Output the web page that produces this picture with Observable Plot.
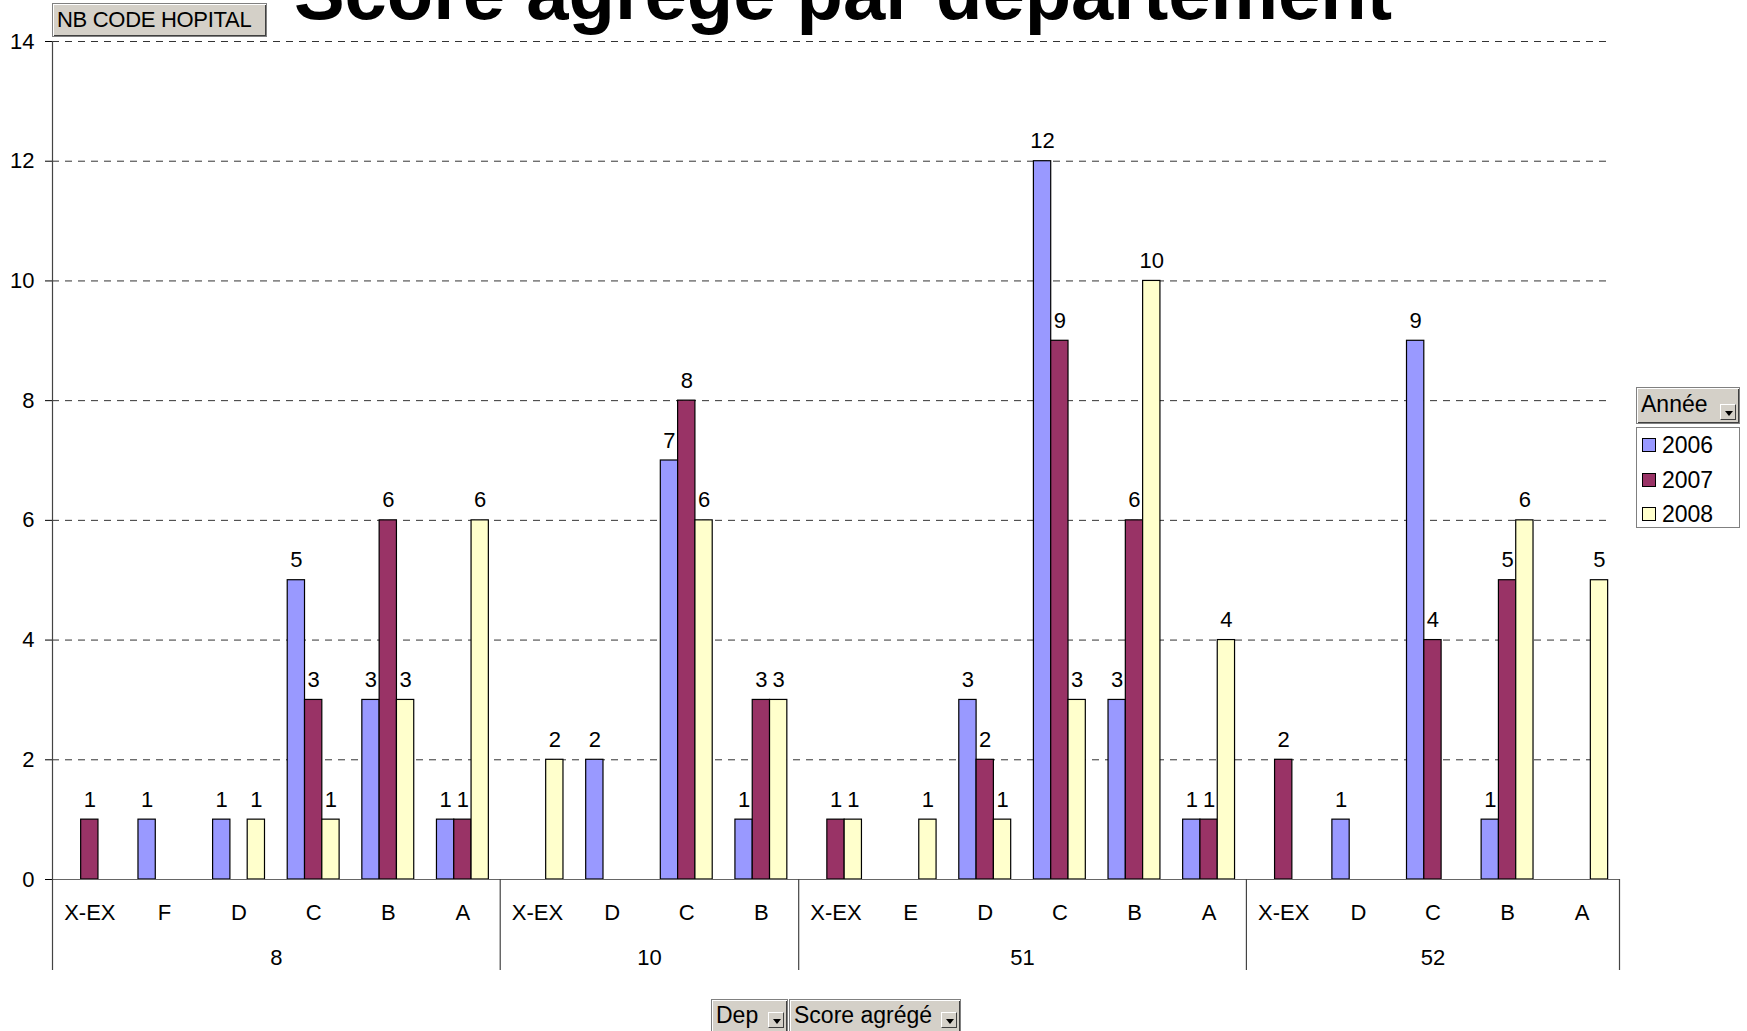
<!DOCTYPE html>
<html>
<head>
<meta charset="utf-8">
<script src="https://cdn.jsdelivr.net/npm/d3@7"></script>
<script src="https://cdn.jsdelivr.net/npm/@observablehq/plot@0.6"></script>
<style>
  body { margin: 0; background: #fff; font-family: "Liberation Sans", Arial, sans-serif; }
  #wrap { position: relative; width: 1747px; height: 1031px; overflow: hidden; background: #fff; }
  #chart { position: absolute; left: 0; top: 0; }
  .title { position: absolute; left: 0; width: 1686px; top: -45px; text-align: center; font-weight: bold;
           font-size: 76px; line-height: 76px; white-space: nowrap; color: #000; }
  .btn { position: absolute; background: #D4D0C8; box-sizing: border-box; border: 1px solid #808080;
         box-shadow: inset 1px 1px 0 #fff, inset -1px -1px 0 #404040; font-size: 22px; color: #000;
         white-space: nowrap; padding-left: 4px; }
  .arrow { position: absolute; width: 16px; height: 16px; box-sizing: border-box; background: #D4D0C8;
           border-top: 1px solid #fff; border-left: 1px solid #fff; border-right: 1px solid #404040; border-bottom: 1px solid #404040; }
  .arrow::after { content: ""; position: absolute; left: 4px; top: 6px; border-left: 4px solid transparent;
                  border-right: 4px solid transparent; border-top: 5px solid #000; }
  .legbox { position: absolute; background: #fff; border: 1px solid #808080; box-sizing: border-box; }
  .legitem { position: absolute; left: 6px; font-size: 22px; line-height: 22px; }
  .legitem span.sw { display: inline-block; width: 12px; height: 12px; border: 1px solid #000; margin-right: 6px; vertical-align: 1px; }
</style>
</head>
<body>
<div id="wrap">
  <div id="chart"></div>
</div>
<script>
// ---------- data ----------
const categoryDeps   = ["8","8","8","8","8","8","10","10","10","10","51","51","51","51","51","51","52","52","52","52","52"];
const categoryScores = ["X-EX","F","D","C","B","A","X-EX","D","C","B","X-EX","E","D","C","B","A","X-EX","D","C","B","A"];
const years = ["2006","2007","2008"];
const values2006 = [null,1,1,5,3,1,   null,2,7,1,   null,null,3,12,3,1,  null,1,9,1,null];
const values2007 = [1,null,null,3,6,1, null,null,8,3, 1,null,2,9,6,1,    2,null,4,5,null];
const values2008 = [null,null,1,1,3,6, 2,null,6,3,   1,1,1,3,10,4,       null,null,null,6,5];
const yearColors = ["#9999FF","#993366","#FFFFCC"];
const yTicks = [0,2,4,6,8,10,12,14];
const departments = ["8","10","51","52"];
const titleText = "Score agrégé par département";
const legendTitle = "Année";
const pageFieldLabel = "NB CODE HOPITAL";
const rowFieldLabels = ["Dep","Score agrégé"];

// ---------- derived table ----------
const keys = categoryScores.map((s, i) => categoryDeps[i] + "|" + s);
const series = [values2006, values2007, values2008];
const rows = years.flatMap((yr, j) => keys.map((k, i) => ({key: k, year: yr, value: series[j][i]})))
                  .filter(d => d.value != null);
const groups = departments.map(dep => {
  const ks = keys.filter((k, i) => categoryDeps[i] === dep);
  return {dep, keys: ks};
});
const evenGroups = groups.filter(g => g.keys.length % 2 === 0).map(g => ({dep: g.dep, key: g.keys[g.keys.length / 2 - 1]}));
const oddGroups  = groups.filter(g => g.keys.length % 2 === 1).map(g => ({dep: g.dep, key: g.keys[(g.keys.length - 1) / 2]}));
const groupStarts = groups.map(g => g.keys[0]);
const lastKey = keys[keys.length - 1];

// ---------- layout ----------
const W = 1747, H = 1031, mL = 52, mR = 128, mT = 41, mB = 152;
const band = (W - mL - mR) / keys.length;
const barW = 17.3;
const inset = (band - barW) / 2;
const FS = 22;

const marks = [];
marks.push(Plot.ruleY(yTicks.filter(t => t > 0), {stroke: "#333", strokeWidth: 1, strokeDasharray: "7,6", insetRight: 7}));
years.forEach((yr, j) => {
  const d = rows.filter(r => r.year === yr);
  const dx = (j - 1) * barW;
  marks.push(Plot.barY(d, {x: "key", y: "value", fill: yearColors[j], stroke: "#000", strokeWidth: 1.2,
                           insetLeft: inset, insetRight: inset, dx}));
  marks.push(Plot.text(d, {x: "key", y: "value", text: "value", dx, dy: -20, fontSize: FS, fill: "#000"}));
});
marks.push(Plot.ruleY([0], {stroke: "#666", strokeWidth: 1.2}));
marks.push(Plot.ruleX([keys[0]], {dx: -band / 2, stroke: "#444", strokeWidth: 1.2}));
marks.push(Plot.ruleX(groupStarts, {y1: 0, y2: 0, dx: -band / 2, insetBottom: -91, stroke: "#444", strokeWidth: 1.2}));
marks.push(Plot.ruleX([lastKey], {y1: 0, y2: 0, dx: band / 2, insetBottom: -91, stroke: "#444", strokeWidth: 1.2}));
marks.push(Plot.text(evenGroups, {x: "key", text: "dep", frameAnchor: "bottom", dy: 85, dx: band / 2, fontSize: FS, fill: "#000"}));
marks.push(Plot.text(oddGroups, {x: "key", text: "dep", frameAnchor: "bottom", dy: 85, fontSize: FS, fill: "#000"}));

const chart = Plot.plot({
  width: W, height: H,
  marginLeft: mL, marginRight: mR, marginTop: mT, marginBottom: mB,
  style: {fontFamily: "'Liberation Sans', Arial, sans-serif", fontSize: FS + "px", background: "transparent", color: "#000", overflow: "visible"},
  x: {domain: keys, padding: 0, round: false, tickSize: 0, tickPadding: 25, tickFormat: d => d.split("|")[1], label: null},
  y: {domain: [0, 14], ticks: yTicks, tickSize: 7, tickPadding: 11, label: null},
  marks
});
document.getElementById("chart").appendChild(chart);

// ---------- overlays (title, pivot buttons, legend) ----------
const wrap = document.getElementById("wrap");
function el(tag, cls, styles, text) {
  const e = document.createElement(tag);
  if (cls) e.className = cls;
  Object.assign(e.style, styles || {});
  if (text != null) e.textContent = text;
  wrap.appendChild(e);
  return e;
}
el("div", "title", {}, titleText);
el("div", "btn", {left: "52px", top: "3px", width: "215px", height: "34px", lineHeight: "31px", fontSize: "22px", letterSpacing: "-0.3px"}, pageFieldLabel);

// legend
el("div", "btn", {left: "1636px", top: "387px", width: "104px", height: "37px", lineHeight: "33px", fontSize: "23px"}, legendTitle);
el("div", "arrow", {left: "1720px", top: "404px"});
el("div", "legbox", {left: "1636px", top: "427px", width: "104px", height: "101px"});
years.forEach((yr, j) => {
  const it = el("div", "legitem", {left: "1642px", top: (434 + j * 34.5) + "px", fontSize: "23px"});
  const sw = document.createElement("span");
  sw.className = "sw";
  sw.style.background = yearColors[j];
  it.appendChild(sw);
  it.appendChild(document.createTextNode(yr));
});

// bottom row field buttons
el("div", "btn", {left: "711px", top: "999px", width: "77px", height: "40px", lineHeight: "30px", fontSize: "23px"}, rowFieldLabels[0]);
el("div", "arrow", {left: "768px", top: "1012px"});
el("div", "btn", {left: "789px", top: "999px", width: "172px", height: "40px", lineHeight: "30px", fontSize: "23px"}, rowFieldLabels[1]);
el("div", "arrow", {left: "941px", top: "1012px"});
</script>
</body>
</html>
